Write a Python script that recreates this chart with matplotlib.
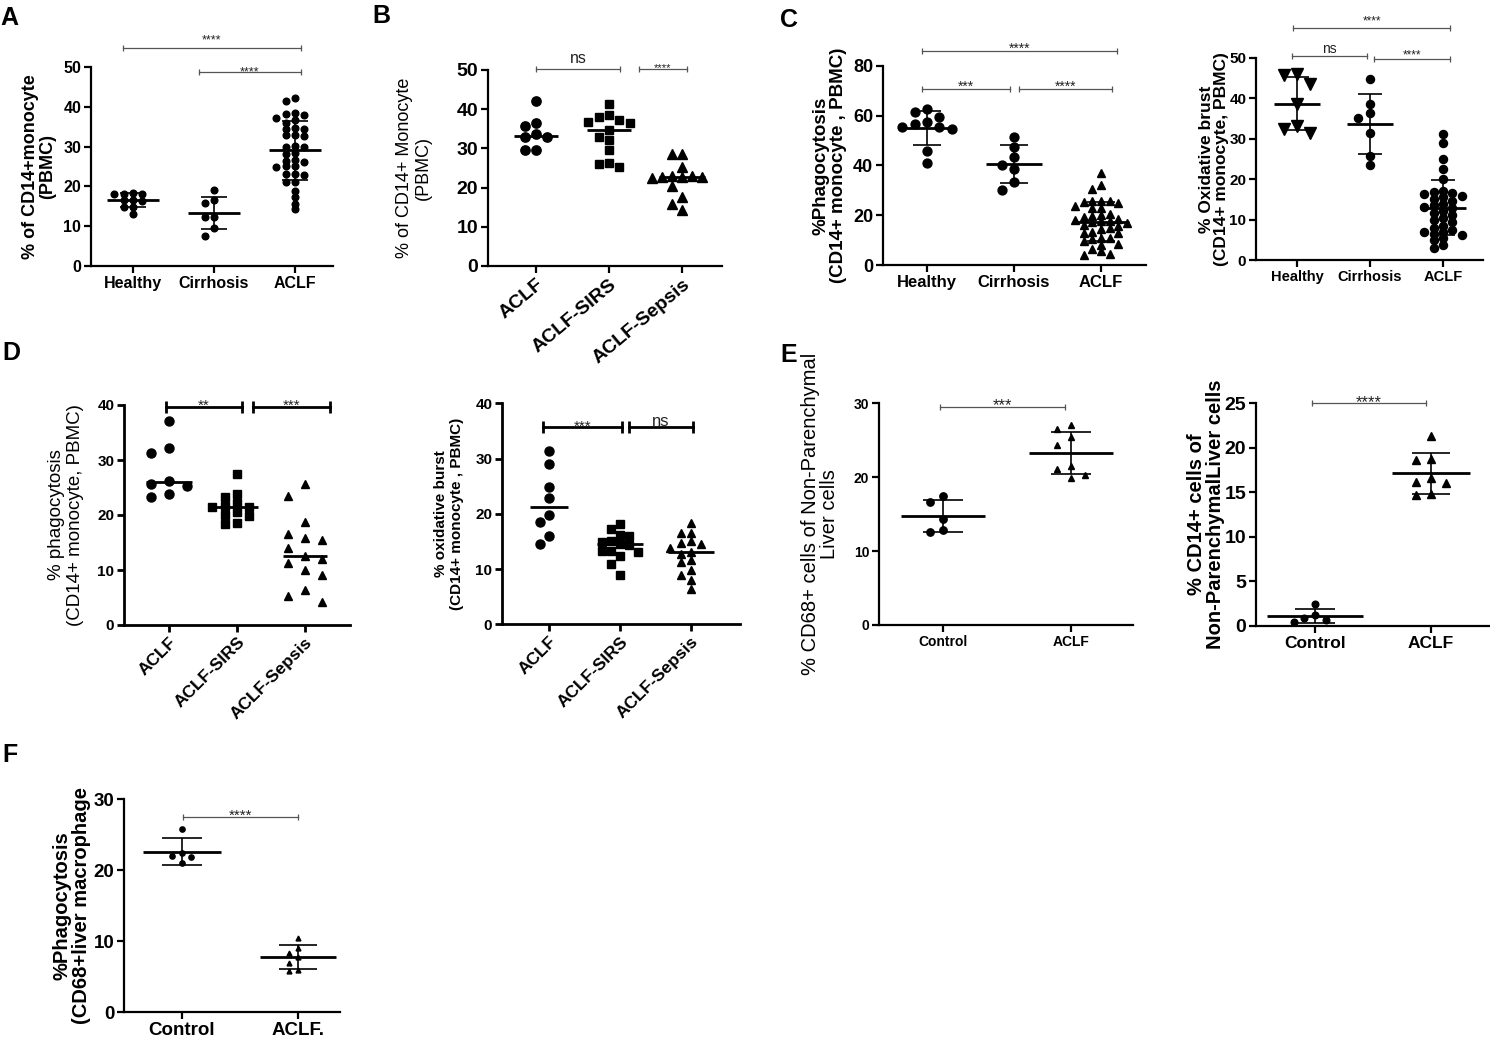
import numpy as np
import matplotlib
matplotlib.use('Agg')
import matplotlib.pyplot as plt

plt.rcParams['font.family'] = ['Liberation Sans', 'DejaVu Sans']

W, H = 1490, 1044

# ---- values ----
a_groups = ['Healthy', 'Cirrhosis', 'ACLF']
a_healthy = [18.2, 18.3, 18.1, 18.2, 16.5, 16.4, 16.6, 14.9, 14.8, 13.1]
a_cirrhosis = [19.0, 16.7, 15.8, 12.4, 12.2, 9.6, 7.6]
a_aclf = [42.2, 41.5, 38.4, 38.2, 38.0, 37.3, 36.6, 36.0, 34.7, 34.5, 34.3, 32.8,
          32.8, 32.7, 30.1, 30.0, 29.8, 28.3, 28.2, 26.6, 26.4, 26.2, 25.1, 25.0,
          24.9, 23.0, 23.1, 22.8, 21.2, 21.0, 18.8, 17.3, 15.7, 14.2]

b_groups = ['ACLF', 'ACLF-SIRS', 'ACLF-Sepsis']
b_aclf = [42.1, 36.4, 35.7, 33.6, 32.8, 32.8, 29.7, 29.7]
b_sirs = [41.3, 38.5, 38.1, 37.2, 36.8, 36.5, 34.7, 33.0, 32.1, 29.7, 26.3, 25.9, 25.3]
b_sepsis = [28.6, 28.5, 25.2, 23.0, 22.9, 22.8, 22.7, 22.6, 22.4, 20.3, 17.6, 15.9, 14.2]

c_groups = ['Healthy', 'Cirrhosis', 'ACLF']
c_phago_healthy = [62.7, 61.5, 59.3, 57.3, 56.5, 55.3, 55.3, 54.5, 45.9, 41.1]
c_phago_cirrhosis = [51.5, 47.2, 43.5, 40.1, 38.4, 33.4, 30.1]
c_phago_aclf = [36.8, 32.0, 30.5, 25.8, 25.6, 25.5, 25.3, 24.8, 23.5, 23.0, 22.8,
                20.5, 20.2, 19.8, 19.2, 18.5, 18.2, 17.8, 17.5, 17.2, 16.8, 16.2,
                15.6, 15.0, 14.6, 13.2, 13.0, 12.8, 11.0, 10.8, 10.5, 9.8, 8.5,
                8.2, 6.5, 5.5, 4.5, 4.0]
c_burst_healthy = [46.0, 45.8, 43.5, 38.5, 33.0, 32.3, 31.5]
c_burst_cirrhosis = [44.7, 38.5, 36.4, 35.2, 31.3, 25.7, 23.6]
c_burst_aclf = [31.2, 29.0, 25.0, 22.6, 19.9, 17.0, 16.8, 16.5, 16.2, 15.8, 15.5,
                15.0, 14.5, 13.8, 13.5, 13.2, 12.8, 12.0, 11.5, 11.0, 10.5, 10.0,
                9.5, 8.5, 8.0, 7.5, 7.0, 6.8, 6.5, 6.2, 5.5, 5.0, 3.8, 3.0]

d_groups = ['ACLF', 'ACLF-SIRS', 'ACLF-Sepsis']
d_phago_aclf = [37.1, 32.2, 31.3, 26.2, 25.7, 25.2, 23.8, 23.3]
d_phago_sirs = [27.5, 23.9, 23.3, 22.2, 21.6, 21.5, 21.4, 20.6, 20.0, 19.8, 18.5, 18.4]
d_phago_sepsis = [25.6, 23.5, 18.7, 16.5, 15.8, 15.5, 14.0, 12.5, 12.0, 11.2, 10.0,
                  9.1, 6.4, 5.3, 4.1]
d_burst_aclf = [31.3, 29.0, 24.9, 22.9, 19.7, 18.6, 15.9, 14.5]
d_burst_sirs = [18.1, 17.2, 16.1, 16.0, 15.0, 14.9, 14.5, 14.4, 13.2, 13.2, 13.1,
                12.3, 11.0, 8.9]
d_burst_sepsis = [18.3, 16.6, 16.5, 15.0, 14.8, 14.5, 13.8, 13.1, 12.8, 11.6, 11.3,
                  9.8, 8.9, 8.0, 6.3]

e_groups = ['Control', 'ACLF']
e_cd68_control = [17.5, 16.6, 14.3, 12.8, 12.6]
e_cd68_aclf = [27.1, 26.5, 25.4, 24.4, 21.5, 21.1, 20.3, 19.9]
e_cd14_control = [2.5, 1.2, 0.9, 0.7, 0.5]
e_cd14_aclf = [21.3, 18.8, 18.6, 16.6, 16.2, 16.0, 14.8, 14.7]

f_groups = ['Control', 'ACLF.']
f_control = [25.8, 22.4, 22.0, 21.8, 21.0]
f_aclf = [10.4, 9.1, 8.3, 7.8, 6.9, 5.9, 5.8]


fig = plt.figure(figsize=(W / 100, H / 100), dpi=100)


def make_axes(left, right, y0, ytop, ticks_px):
    # plotting box given in pixels of the output image
    ax = fig.add_axes([left / W, 1 - y0 / H, (right - left) / W, (y0 - ytop) / H])
    step = ticks_px[1] - ticks_px[0]
    ax.set_xlim((left - ticks_px[0]) / step, (right - ticks_px[0]) / step)
    return ax


def style_axes(ax, yticks, groups, tick_fs, cat_fs, rot=0, lw=1.6):
    ax.set_ylim(yticks[0], yticks[-1])
    for s in ['top', 'right']:
        ax.spines[s].set_visible(False)
    for s in ['left', 'bottom']:
        ax.spines[s].set_linewidth(lw)
    ax.set_yticks(yticks)
    ax.set_yticklabels([str(t) for t in yticks], fontsize=tick_fs, fontweight='bold')
    ax.set_xticks(range(len(groups)))
    if rot:
        ax.set_xticklabels(groups, fontsize=cat_fs, fontweight='bold', rotation=rot,
                           ha='right', rotation_mode='anchor')
    else:
        ax.set_xticklabels(groups, fontsize=cat_fs, fontweight='bold')
    ax.tick_params(width=lw, length=5, pad=2)
    ax.patch.set_alpha(0)


def set_ylabel(ax, text, cx_px, fs, weight='bold', spacing=1.1):
    ax.set_ylabel(text, fontsize=fs, fontweight=weight, linespacing=spacing,
                  multialignment='center')
    pos = ax.get_position()
    ax.yaxis.set_label_coords((cx_px / W - pos.x0) / pos.width, 0.5)
    ax.yaxis.label.set_va('center')


def swarm_x(ax, x0, vals, d_px, step_px, vtol):
    # simple column-wise beeswarm, done in pixel space
    disp = ax.transData.transform(np.column_stack([np.full(len(vals), x0), vals]))
    out = np.zeros(len(vals))
    placed = []
    offsets = [0]
    for k in range(1, 16):
        offsets += [-k * 0.5, k * 0.5]
    for i in np.argsort(vals)[::-1]:
        px, py = disp[i]
        cx = px
        for k in offsets:
            cx = px + k * step_px
            if all(abs(py - qy) >= d_px * vtol or abs(cx - qx) >= step_px * 0.99
                   for qx, qy in placed):
                break
        placed.append((cx, py))
        out[i] = ax.transData.inverted().transform((cx, py))[0]
    return out


def draw_group(ax, x0, vals, marker, ms, summary='mean_sd', hw=0.32, cap=0.16,
               step=1.25, vtol=1.0):
    vals = np.asarray(vals, float)
    d_px = ms * fig.dpi / 72
    xs = swarm_x(ax, x0, vals, d_px, d_px * step, vtol)
    ax.plot(xs, vals, linestyle='none', marker=marker, ms=ms, color='black',
            zorder=2, clip_on=False)
    if summary == 'median':
        ax.hlines(np.median(vals), x0 - hw, x0 + hw, color='black', lw=2, zorder=3)
    else:
        m, s = vals.mean(), vals.std(ddof=1)
        ax.hlines(m, x0 - hw, x0 + hw, color='black', lw=2, zorder=3)
        ax.vlines(x0, m - s, m + s, color='black', lw=1.2, zorder=3)
        ax.hlines([m - s, m + s], x0 - cap, x0 + cap, color='black', lw=1.2, zorder=3)


def sig_bar(ax, x1, x2, y, text, dy, fs, heavy=False):
    color = 'black' if heavy else '#555555'
    lw = 2.0 if heavy else 0.9
    ax.plot([x1, x2], [y, y], color=color, lw=lw, marker='|', ms=9 if heavy else 5,
            mew=lw, clip_on=False, zorder=4)
    em = fs * 100 / 72
    base = dy - (0.58 if '*' in text else 0.26) * em
    ax.annotate(text, xy=((x1 + x2) / 2, y), xytext=(0, base), textcoords='offset pixels',
                ha='center', va='baseline', fontsize=fs, color='#222222',
                annotation_clip=False)


def panel_letter(letter, x_px, base_px):
    fig.text(x_px / W, 1 - base_px / H, letter, fontsize=18, fontweight='bold',
             ha='left', va='baseline')


# ---- A ----
ax = make_axes(91, 333, 266, 67, [133, 214, 295])
style_axes(ax, [0, 10, 20, 30, 40, 50], a_groups, 11.5, 11.5)
draw_group(ax, 0, a_healthy, 'o', 4.8, step=1.4, vtol=1.0)
draw_group(ax, 1, a_cirrhosis, 'o', 4.8, step=1.4, vtol=1.2)
draw_group(ax, 2, a_aclf, 'o', 4.8, step=1.4, vtol=0.8)
set_ylabel(ax, '% of CD14+monocyte\n(PBMC)', 39, 13, spacing=1.05)
sig_bar(ax, -0.12, 2.07, 54.8, '****', 12, 9)
sig_bar(ax, 0.81, 2.07, 48.7, '****', 4, 9)
panel_letter('A', 0, 25)

# ---- B ----
ax = make_axes(488, 722, 266, 70, [536, 609, 683])
style_axes(ax, [0, 10, 20, 30, 40, 50], b_groups, 14, 14, rot=40)
draw_group(ax, 0, b_aclf, 'o', 6.7, summary='median', hw=0.3, step=1.15)
draw_group(ax, 1, b_sirs, 's', 6.0, summary='median', hw=0.3, step=1.25)
draw_group(ax, 2, b_sepsis, '^', 6.8, summary='median', hw=0.32, step=1.05)
set_ylabel(ax, '% of CD14+ Monocyte\n(PBMC)', 414, 13, weight='normal', spacing=1.1)
sig_bar(ax, 0.0, 1.15, 50.25, 'ns', 10, 11.5)
sig_bar(ax, 1.41, 2.07, 50.25, '****', 4, 8)
panel_letter('B', 372, 23)

# ---- C (phagocytosis) ----
ax = make_axes(883, 1146, 265, 65.7, [927, 1014, 1101])
style_axes(ax, [0, 20, 40, 60, 80], c_groups, 13, 12)
draw_group(ax, 0, c_phago_healthy, 'o', 6.4, step=1.4, vtol=1.0)
draw_group(ax, 1, c_phago_cirrhosis, 'o', 6.4, step=1.4, vtol=1.0)
draw_group(ax, 2, c_phago_aclf, '^', 6.2, step=1.0, vtol=0.75)
set_ylabel(ax, '%Phagocytosis\n(CD14+ monocyte , PBMC)', 830, 13.5, spacing=1.05)
sig_bar(ax, -0.06, 2.18, 85.7, '****', 7, 10)
sig_bar(ax, -0.06, 0.95, 70.5, '***', 7, 10)
sig_bar(ax, 1.06, 2.13, 70.5, '****', 7, 10)
panel_letter('C', 780, 27)

# ---- C (oxidative burst) ----
ax = make_axes(1256, 1483, 260, 57.7, [1297, 1370, 1443])
style_axes(ax, [0, 10, 20, 30, 40, 50], c_groups, 11, 10.5)
draw_group(ax, 0, c_burst_healthy, 'v', 8.2, step=1.1, vtol=0.9)
draw_group(ax, 1, c_burst_cirrhosis, 'o', 5.8, step=1.5, vtol=1.0)
draw_group(ax, 2, c_burst_aclf, 'o', 5.8, step=1.15, vtol=0.7)
set_ylabel(ax, '% Oxidative brust\n(CD14+ monocyte, PBMC)', 1214, 12.5, spacing=1.05)
sig_bar(ax, -0.05, 2.1, 57.3, '****', 11, 8.5)
sig_bar(ax, -0.07, 0.96, 50.4, 'ns', 7, 10)
sig_bar(ax, 1.05, 2.1, 49.7, '****', 7, 8.5)

# ---- D (phagocytosis) ----
ax = make_axes(124, 350, 625, 405, [169, 237, 305])
style_axes(ax, [0, 10, 20, 30, 40], d_groups, 11, 12.5, rot=45, lw=2)
draw_group(ax, 0, d_phago_aclf, 'o', 6.5, summary='median', hw=0.34, step=2.0, vtol=1.3)
draw_group(ax, 1, d_phago_sirs, 's', 5.6, summary='median', hw=0.31, step=1.6, vtol=1.1)
draw_group(ax, 2, d_phago_sepsis, '^', 6.0, summary='median', hw=0.32, step=2.0, vtol=1.6)
set_ylabel(ax, '% phagocytosis\n(CD14+ monocyte, PBMC)', 66, 13.5, weight='normal', spacing=1.1)
sig_bar(ax, -0.04, 1.07, 39.7, '**', 6, 11, heavy=True)
sig_bar(ax, 1.24, 2.37, 39.7, '***', 6, 11, heavy=True)
panel_letter('D', 2, 360)

# ---- D (oxidative burst) ----
ax = make_axes(502, 740, 624.3, 403.3, [549, 620, 693])
style_axes(ax, [0, 10, 20, 30, 40], d_groups, 11, 12.5, rot=45, lw=2)
draw_group(ax, 0, d_burst_aclf, 'o', 6.5, summary='median', hw=0.27, step=1.0, vtol=1.0)
draw_group(ax, 1, d_burst_sirs, 's', 5.8, summary='median', hw=0.32, step=1.1, vtol=1.0)
draw_group(ax, 2, d_burst_sepsis, '^', 5.8, summary='median', hw=0.32, step=1.3, vtol=1.0)
set_ylabel(ax, '% oxidative burst\n(CD14+ monocyte , PBMC)', 449, 11, spacing=1.1)
sig_bar(ax, -0.08, 1.03, 35.8, '***', 5, 11, heavy=True)
sig_bar(ax, 1.12, 2.03, 35.8, 'ns', 5, 12, heavy=True)

# ---- E (CD68+) ----
ax = make_axes(879, 1133, 625, 403.3, [943, 1071])
style_axes(ax, [0, 10, 20, 30], e_groups, 10, 10)
draw_group(ax, 0, e_cd68_control, 'o', 5.3, hw=0.33, step=1.7, vtol=1.4)
draw_group(ax, 1, e_cd68_aclf, '^', 5.0, hw=0.33, step=2.0, vtol=1.4)
set_ylabel(ax, '% CD68+ cells of Non-Parenchymal\nLiver cells', 820, 14.5,
           weight='normal', spacing=1.0)
sig_bar(ax, -0.02, 0.95, 29.5, '***', 7, 12)
panel_letter('E', 780, 362)

# ---- E (CD14+) ----
ax = make_axes(1256, 1490, 626, 403.3, [1315, 1431])
style_axes(ax, [0, 5, 10, 15, 20, 25], e_groups, 14, 12.5)
draw_group(ax, 0, e_cd14_control, 'o', 4.8, hw=0.41, cap=0.17, step=1.6, vtol=1.2)
draw_group(ax, 1, e_cd14_aclf, '^', 5.3, hw=0.34, step=2.0, vtol=1.4)
set_ylabel(ax, '% CD14+ cells of\nNon-ParenchymalLiver cells', 1206, 14.5, spacing=1.05)
sig_bar(ax, -0.03, 0.96, 25.0, '****', 6, 12)

# ---- F ----
ax = make_axes(124, 340, 1012.3, 799, [182, 298])
style_axes(ax, [0, 10, 20, 30], f_groups, 13.5, 13.5)
draw_group(ax, 0, f_control, 'o', 3.8, hw=0.34, cap=0.17, step=1.8, vtol=1.3)
draw_group(ax, 1, f_aclf, '^', 3.5, hw=0.33, step=1.8, vtol=1.4)
set_ylabel(ax, '%Phagocytosis\n(CD68+liver macrophage', 72, 14.5, spacing=1.0)
sig_bar(ax, 0.01, 1.0, 27.4, '****', 7, 11)
panel_letter('F', 2, 762)

fig.savefig('out.png', dpi=100)
